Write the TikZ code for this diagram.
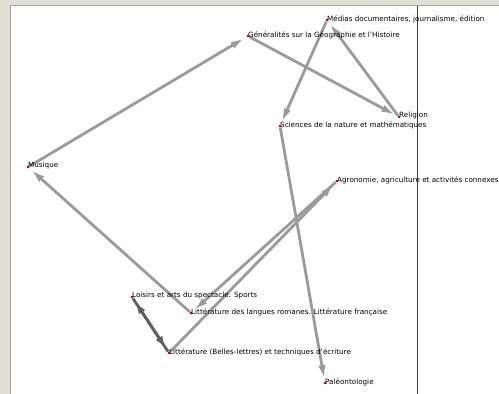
\documentclass[tikz,border=0pt]{standalone}
\usepackage{fontspec}
\setmainfont{DejaVu Sans}
\usetikzlibrary{arrows.meta}
\definecolor{fond}{RGB}{226,223,214}
\definecolor{bord}{RGB}{165,163,158}
\definecolor{trait}{RGB}{155,155,155}
\definecolor{traitdouble}{RGB}{95,95,95}
\begin{document}
\begin{tikzpicture}[
    x=1pt, y=-1pt,
    % Style des sommets et des etiquettes
    sommet/.style={circle, fill=red!70!black, inner sep=0pt, minimum size=2.8pt},
    etiquette/.style={anchor=west, inner sep=0pt, font=\fontsize{7.2}{8}\selectfont, yshift=1pt},
    % Style des fleches
    arrow/.style={-{Latex[length=14pt,width=7.5pt]}, line width=2.8pt, color=trait, shorten >=2.5pt},
    double/.style={color=traitdouble}
]
\useasboundingbox (0,0) rectangle (499,394);

% ==========================================
% FOND
% ==========================================
\fill[fond] (0,0) rectangle (499,394);
\fill[white] (10,5) rectangle (499,394);
\draw[bord, line width=1pt] (10.5,394) -- (10.5,5.5) -- (499,5.5);
\draw[black!75, line width=0.8pt] (417,6) -- (417,394);

% ==========================================
% SOMMETS
% ==========================================
\node[sommet] (medias) at (327,20) {};
\node[sommet] (generalites) at (248,36) {};
\node[sommet] (religion) at (399,117) {};
\node[sommet] (sciences) at (280,126) {};
\node[sommet] (musique) at (28,167) {};
\node[sommet] (agronomie) at (337,181) {};
\node[sommet] (loisirs) at (132,297) {};
\node[sommet] (romanes) at (191,313) {};
\node[sommet] (belles) at (169,353) {};
\node[sommet] (paleo) at (325,383) {};

% ==========================================
% FLECHES
% ==========================================
\draw[arrow] (musique) -- (generalites);
\draw[arrow] (generalites) -- (religion);
\draw[arrow] (religion) -- (medias);
\draw[arrow] (medias) -- (sciences);
\draw[arrow] (sciences) -- (paleo);
\draw[arrow] (romanes) -- (musique);
\draw[arrow] (agronomie) -- (romanes);
\draw[arrow] (belles) -- (agronomie);
\draw[arrow, double] (loisirs) -- (belles);
\draw[arrow, double] (belles) -- (loisirs);

% Etiquettes
\node[etiquette] (medias-txt) at (medias) {Médias documentaires, journalisme, édition};
\node[etiquette] (generalites-txt) at (generalites) {Généralités sur la Géographie et l'Histoire};
\node[etiquette] (religion-txt) at (religion) {Religion};
\node[etiquette] (sciences-txt) at (sciences) {Sciences de la nature et mathématiques};
\node[etiquette] (musique-txt) at (musique) {Musique};
\node[etiquette] (agronomie-txt) at (agronomie) {Agronomie, agriculture et activités connexes};
\node[etiquette] (loisirs-txt) at (loisirs) {Loisirs et arts du spectacle. Sports};
\node[etiquette] (romanes-txt) at (romanes) {Littérature des langues romanes. Littérature française};
\node[etiquette] (belles-txt) at (belles) {Littérature (Belles-lettres) et techniques d'écriture};
\node[etiquette] (paleo-txt) at (paleo) {Paléontologie};

\end{tikzpicture}
\end{document}
